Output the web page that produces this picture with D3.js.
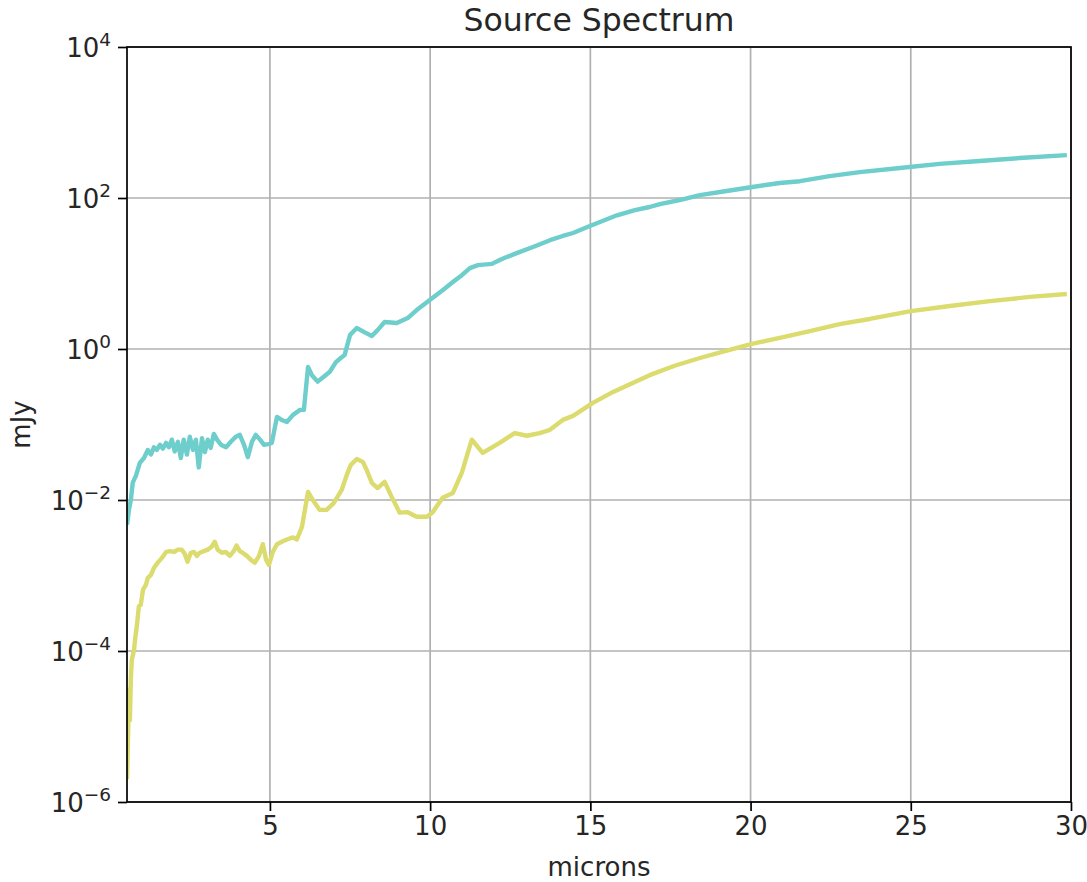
<!DOCTYPE html>
<html>
<head>
<meta charset="utf-8">
<script src="https://cdn.jsdelivr.net/npm/d3@7"></script>
<style>
  body { margin: 0; background: #fff; }
  svg { display: block; font-family: "DejaVu Sans", sans-serif; }
</style>
</head>
<body>
<svg id="chart" width="1087" height="882"></svg>
<script>
// ---- data (microns, mJy) ----
const cyanX = [0.54,0.60,0.66,0.72,0.82,0.94,1.07,1.19,1.29,1.38,1.47,1.57,1.66,1.76,1.85,1.94,2.03,2.13,2.22,2.31,2.41,2.50,2.60,2.69,2.78,2.88,2.97,3.06,3.15,3.25,3.35,3.47,3.63,3.78,3.94,4.06,4.19,4.31,4.44,4.56,4.69,4.81,4.94,5.06,5.22,5.37,5.53,5.72,5.94,6.06,6.19,6.31,6.49,6.68,6.87,7.06,7.21,7.33,7.50,7.71,7.96,8.18,8.36,8.58,8.96,9.30,9.58,9.99,10.39,10.71,10.99,11.24,11.49,11.93,12.17,12.39,12.70,13.21,13.74,14.14,14.46,14.89,15.30,15.83,16.39,16.85,17.17,17.79,18.42,19.20,20.01,20.91,21.54,22.47,23.41,24.66,25.90,27.15,28.40,29.87];
const cyanY = [0.0047,0.0074,0.010,0.017,0.021,0.031,0.036,0.046,0.040,0.050,0.046,0.054,0.048,0.057,0.050,0.063,0.044,0.059,0.036,0.063,0.040,0.069,0.046,0.063,0.027,0.066,0.043,0.063,0.049,0.075,0.063,0.054,0.050,0.059,0.069,0.073,0.054,0.037,0.059,0.073,0.063,0.054,0.055,0.057,0.126,0.115,0.108,0.134,0.156,0.156,0.58,0.45,0.37,0.43,0.50,0.67,0.76,0.83,1.53,1.90,1.66,1.49,1.78,2.28,2.21,2.57,3.28,4.45,6.0,7.7,9.5,11.8,12.9,13.4,15.1,16.5,18.6,22.4,27.6,31.4,34.4,41.0,48,59,69,76,83,94,109,123,139,158,167,195,220,250,283,309,338,370];

const yellowX = [0.54,0.57,0.60,0.63,0.66,0.69,0.76,0.79,0.85,0.91,0.97,1.04,1.13,1.19,1.29,1.38,1.50,1.63,1.76,1.89,2.00,2.13,2.25,2.34,2.43,2.53,2.63,2.72,2.81,2.94,3.06,3.18,3.28,3.37,3.50,3.62,3.75,3.87,3.96,4.06,4.15,4.28,4.40,4.53,4.66,4.78,4.88,4.97,5.09,5.22,5.37,5.53,5.72,5.84,6.00,6.19,6.34,6.55,6.77,6.99,7.24,7.40,7.52,7.71,7.90,8.02,8.18,8.36,8.58,8.80,9.05,9.30,9.58,9.90,10.08,10.39,10.71,10.99,11.30,11.64,12.17,12.64,13.02,13.42,13.74,14.14,14.46,15.08,15.71,16.32,16.85,17.63,18.42,19.20,20.01,20.91,21.85,22.78,23.72,25.00,26.22,27.47,28.72,29.87];
const yellowY = [2.0e-6,6.6e-6,3.1e-5,1.2e-5,4.2e-5,7.6e-5,1.04e-4,1.4e-4,2.2e-4,3.9e-4,4.1e-4,6.5e-4,7.5e-4,9.3e-4,1.02e-3,1.26e-3,1.48e-3,1.71e-3,2.05e-3,2.1e-3,2.05e-3,2.2e-3,2.2e-3,1.94e-3,1.52e-3,2.0e-3,2.05e-3,1.82e-3,2.0e-3,2.1e-3,2.2e-3,2.4e-3,2.8e-3,2.2e-3,2.0e-3,2.05e-3,1.82e-3,2.1e-3,2.5e-3,2.1e-3,2.0e-3,1.82e-3,1.62e-3,1.48e-3,1.82e-3,2.6e-3,1.62e-3,1.38e-3,2.05e-3,2.6e-3,2.8e-3,3.0e-3,3.2e-3,3.0e-3,4.4e-3,0.0128,0.0100,0.0074,0.0074,0.0091,0.0136,0.0215,0.029,0.035,0.032,0.025,0.0169,0.0144,0.0174,0.0110,0.0068,0.0069,0.0060,0.0060,0.0069,0.0107,0.0124,0.023,0.063,0.042,0.057,0.077,0.071,0.077,0.085,0.115,0.130,0.193,0.27,0.355,0.45,0.60,0.76,0.94,1.16,1.40,1.73,2.14,2.50,3.18,3.71,4.3,4.9,5.35];

const xTicks = [5, 10, 15, 20, 25, 30];
const yTickExps = [-6, -4, -2, 0, 2, 4];
const titleText = "Source Spectrum";
const xLabelText = "microns";
const yLabelText = "mJy";

// ---- layout ----
const M = { left: 127, top: 47, right: 1071, bottom: 802 };
const svg = d3.select("#chart");

const x = d3.scaleLinear().domain([0.54, 30]).range([M.left, M.right]);
const y = d3.scaleLog().domain([1e-6, 1e4]).range([M.bottom, M.top]);

// grid
const grid = svg.append("g");
grid.selectAll("line.gx").data(xTicks).join("line")
  .attr("x1", d => x(d)).attr("x2", d => x(d))
  .attr("y1", M.top).attr("y2", M.bottom)
  .attr("stroke", "#b0b0b0").attr("stroke-width", 1.7);
grid.selectAll("line.gy").data(yTickExps).join("line")
  .attr("x1", M.left).attr("x2", M.right)
  .attr("y1", d => y(Math.pow(10, d))).attr("y2", d => y(Math.pow(10, d)))
  .attr("stroke", "#b0b0b0").attr("stroke-width", 1.7);

// lines
svg.append("clipPath").attr("id", "clip").append("rect")
  .attr("x", M.left).attr("y", M.top).attr("width", M.right - M.left).attr("height", M.bottom - M.top);

const line = d3.line().x(d => x(d[0])).y(d => y(d[1]));
const plot = svg.append("g").attr("clip-path", "url(#clip)");
plot.append("path").datum(cyanX.map((v, i) => [v, cyanY[i]]))
  .attr("d", line).attr("fill", "none").attr("stroke", "#6dcecc")
  .attr("stroke-width", 4.4).attr("stroke-linejoin", "round");
plot.append("path").datum(yellowX.map((v, i) => [v, yellowY[i]]))
  .attr("d", line).attr("fill", "none").attr("stroke", "#dbdb6e")
  .attr("stroke-width", 4.4).attr("stroke-linejoin", "round");

// axes
const xAxis = d3.axisBottom(x).tickValues(xTicks).tickSize(9).tickPadding(6).tickFormat(d3.format("d"));
const gx = svg.append("g").attr("transform", `translate(0,${M.bottom})`).call(xAxis);
gx.select(".domain").remove();
gx.selectAll(".tick line").attr("stroke", "#000").attr("stroke-width", 1.7);
gx.selectAll(".tick text").attr("font-size", 26).attr("fill", "#262626").attr("font-family", "DejaVu Sans");

const yAxis = d3.axisLeft(y).tickValues(yTickExps.map(e => Math.pow(10, e))).tickSize(9).tickPadding(7).tickFormat(() => "");
const gy = svg.append("g").attr("transform", `translate(${M.left},0)`).call(yAxis);
gy.select(".domain").remove();
gy.selectAll(".tick line").attr("stroke", "#000").attr("stroke-width", 1.7);
gy.selectAll(".tick text").each(function(d) {
  const e = Math.round(Math.log10(d));
  const t = d3.select(this).attr("font-size", 26).attr("fill", "#262626").attr("font-family", "DejaVu Sans").attr("dy", "0.38em");
  t.text(null);
  t.append("tspan").text("10");
  t.append("tspan").attr("dy", "-0.6em").attr("font-size", 18.5).text(e < 0 ? "\u2212" + (-e) : String(e));
});

// frame
svg.append("rect").attr("x", M.left).attr("y", M.top)
  .attr("width", M.right - M.left).attr("height", M.bottom - M.top)
  .attr("fill", "none").attr("stroke", "#000").attr("stroke-width", 1.7);

// labels
svg.append("text").attr("x", (M.left + M.right) / 2).attr("y", 31)
  .attr("text-anchor", "middle").attr("font-size", 31.5).attr("fill", "#262626").text(titleText);
svg.append("text").attr("x", (M.left + M.right) / 2).attr("y", 876)
  .attr("text-anchor", "middle").attr("font-size", 26).attr("fill", "#262626").text(xLabelText);
svg.append("text").attr("transform", `translate(30,${(M.top + M.bottom) / 2}) rotate(-90)`)
  .attr("text-anchor", "middle").attr("font-size", 26).attr("fill", "#262626").text(yLabelText);
</script>
</body>
</html>
